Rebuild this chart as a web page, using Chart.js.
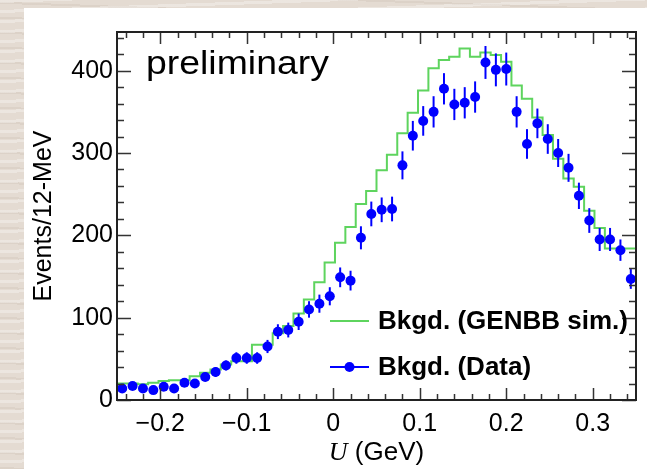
<!DOCTYPE html>
<html lang="en">
<head>
<meta charset="UTF-8">
<title>Bkgd. U distribution</title>
<script src="https://cdn.jsdelivr.net/npm/chart.js@4"></script>
<style>
    body {
        margin: 0;
        width: 647px;
        height: 469px;
        overflow: hidden;
        position: relative;
        background-color: #e4dbd2;
        background-image:
            repeating-linear-gradient(178deg, rgba(255,255,255,0.30) 0 3px, rgba(255,255,255,0) 3px 10px),
            repeating-linear-gradient(2deg, rgba(150,130,110,0.10) 0 2px, rgba(0,0,0,0) 2px 15px);
    }
    .panel {
        position: absolute;
        left: 24px;
        top: 8px;
        width: 623px;
        height: 461px;
        background: #fff;
    }
    #chart {
        position: absolute;
        left: 0;
        top: 0;
    }
</style>
</head>
<body>
<div class="panel"></div>
<canvas id="chart" width="647" height="469"></canvas>
<script>
    // binning of both histograms (12 MeV bins)
    const binLo = -0.25;
    const binHi = 0.35;
    const binWidth = 0.012;

    // Bkgd. (Data): counts per bin and their error bars
    const dataCounts = [14, 17, 14, 12, 16, 14, 21, 20, 28, 34,
                        42, 51, 51, 51, 65, 83, 85, 95, 110, 117,
                        126, 149, 145, 197, 226, 231, 232, 285, 321, 339,
                        350, 378, 359, 361, 368, 410, 401, 402, 350, 311,
                        336, 317, 300, 282, 248, 218, 195, 195, 182, 147];
    const dataErrors = [4, 4, 4, 3, 4, 4, 5, 4, 5, 6,
                        6, 7, 7, 7, 8, 9, 9, 10, 10, 11,
                        11, 12, 12, 14, 15, 15, 15, 17, 18, 18,
                        19, 19, 19, 19, 19, 20, 20, 20, 19, 18,
                        18, 18, 17, 17, 16, 15, 14, 14, 13, 12];

    // Bkgd. (GENBB sim.) histogram contents
    const simCounts = [20, 20, 20, 19, 21, 23, 24, 24, 29, 33,
                       37, 43, 47, 47, 67, 67, 81, 90, 105, 122,
                       143, 167, 191, 210, 238, 254, 279, 298, 324, 349,
                       376, 403, 413, 417, 427, 417, 422, 419, 411, 382,
                       366, 343, 322, 293, 269, 259, 230, 209, 184, 184];

    const xTickValues = [-0.2, -0.1, 0, 0.1, 0.2, 0.3];
    const yTickValues = [0, 100, 200, 300, 400];
    const yMax = 447;

    const BLUE = '#0000ff';
    const GREEN = '#5ed45e';
    const SANS = '"Liberation Sans", Arial, Helvetica, sans-serif';
    const SERIF = '"Liberation Serif", "Times New Roman", serif';

    const dataPoints = dataCounts.map((v, i) => ({ x: binLo + (i + 0.5) * binWidth, y: v }));
    const simPoints = simCounts.map((v, i) => ({ x: binLo + i * binWidth, y: v }));
    simPoints.push({ x: binHi, y: simCounts[simCounts.length - 1] });

    function fmtTick(v) {
        if (Math.abs(v) < 1e-9) return '0';
        return (v < 0 ? '\u2212' : '') + Math.abs(v).toFixed(1);
    }

    // error bars, drawn through the y scale
    const errorBars = {
        id: 'errorBars',
        afterDatasetsDraw(chart) {
            const { ctx, scales: { x, y }, chartArea } = chart;
            ctx.save();
            ctx.beginPath();
            ctx.rect(chartArea.left, chartArea.top, chartArea.right - chartArea.left, chartArea.bottom - chartArea.top);
            ctx.clip();
            ctx.strokeStyle = BLUE;
            ctx.lineWidth = 2;
            dataPoints.forEach((p, i) => {
                const px = x.getPixelForValue(p.x);
                ctx.beginPath();
                ctx.moveTo(px, y.getPixelForValue(p.y - dataErrors[i]));
                ctx.lineTo(px, y.getPixelForValue(p.y + dataErrors[i]));
                ctx.stroke();
            });
            ctx.restore();
        }
    };

    // ROOT-like frame: box, inward ticks on all sides, titles, legend, label
    const rootFrame = {
        id: 'rootFrame',
        afterDraw(chart) {
            const { ctx, scales: { x, y }, chartArea: a } = chart;
            ctx.save();

            // ticks
            ctx.strokeStyle = '#333';
            ctx.lineWidth = 1.5;
            ctx.beginPath();
            for (let k = -12; k <= 17; k++) {
                const v = k * 0.02;
                if (v < binLo || v > binHi) continue;
                const px = Math.round(x.getPixelForValue(v)) + 0.5;
                const len = (k % 5 === 0) ? 12 : 6;
                ctx.moveTo(px, a.bottom); ctx.lineTo(px, a.bottom - len);
                ctx.moveTo(px, a.top); ctx.lineTo(px, a.top + len);
            }
            for (let v = 0; v <= yMax; v += 20) {
                const py = Math.round(y.getPixelForValue(v)) + 0.5;
                const len = (v % 100 === 0) ? 14 : 7;
                ctx.moveTo(a.left, py); ctx.lineTo(a.left + len, py);
                ctx.moveTo(a.right, py); ctx.lineTo(a.right - len, py);
            }
            ctx.stroke();

            // frame
            ctx.strokeStyle = '#222';
            ctx.lineWidth = 2;
            ctx.strokeRect(a.left, a.top, a.right - a.left, a.bottom - a.top);

            ctx.fillStyle = '#000';

            // y title
            ctx.save();
            ctx.translate(51, (a.top + a.bottom) / 2);
            ctx.rotate(-Math.PI / 2);
            ctx.font = '25px ' + SANS;
            ctx.textAlign = 'center';
            ctx.textBaseline = 'alphabetic';
            ctx.fillText('Events/12-MeV', 0, 0);
            ctx.restore();

            // x title: italic U + (GeV)
            ctx.textBaseline = 'alphabetic';
            ctx.textAlign = 'left';
            const uFont = 'italic 26px ' + SERIF;
            const restFont = '26px ' + SANS;
            ctx.font = uFont;
            const wU = ctx.measureText('U').width;
            ctx.font = restFont;
            const wRest = ctx.measureText(' (GeV)').width;
            const x0 = (a.left + a.right) / 2 - (wU + wRest) / 2;
            ctx.font = uFont;
            ctx.fillText('U', x0, 460);
            ctx.font = restFont;
            ctx.fillText(' (GeV)', x0 + wU, 460);

            // preliminary
            ctx.save();
            ctx.translate(146, 74);
            ctx.scale(1.1, 1);
            ctx.font = '34px ' + SANS;
            ctx.fillText('preliminary', 0, 0);
            ctx.restore();

            // legend
            ctx.font = 'bold 26px ' + SANS;
            ctx.textBaseline = 'middle';
            ctx.lineWidth = 2;
            ctx.strokeStyle = GREEN;
            ctx.beginPath();
            ctx.moveTo(330, 321); ctx.lineTo(369, 321);
            ctx.stroke();
            ctx.fillText(chart.data.datasets[1].label, 378, 322);

            ctx.strokeStyle = BLUE;
            ctx.beginPath();
            ctx.moveTo(330, 367); ctx.lineTo(369, 367);
            ctx.stroke();
            ctx.fillStyle = BLUE;
            ctx.beginPath();
            ctx.arc(349.5, 367, 5, 0, Math.PI * 2);
            ctx.fill();
            ctx.fillStyle = '#000';
            ctx.fillText(chart.data.datasets[0].label, 378, 368);

            ctx.restore();
        }
    };

    new Chart(document.getElementById('chart').getContext('2d'), {
        type: 'scatter',
        data: {
            datasets: [{
                label: 'Bkgd. (Data)',
                data: dataPoints,
                showLine: false,
                pointRadius: 5,
                pointBackgroundColor: BLUE,
                pointBorderWidth: 0,
                order: 0
            }, {
                label: 'Bkgd. (GENBB sim.)',
                type: 'line',
                data: simPoints,
                stepped: 'after',
                borderColor: GREEN,
                borderWidth: 2,
                pointRadius: 0,
                fill: false,
                order: 1
            }]
        },
        options: {
            responsive: false,
            animation: false,
            events: [],
            layout: { padding: { left: 0, top: 32, right: 11, bottom: 0 } },
            plugins: { legend: { display: false }, tooltip: { enabled: false } },
            scales: {
                x: {
                    type: 'linear',
                    min: binLo,
                    max: binHi,
                    grid: { display: false, drawTicks: false },
                    border: { display: false },
                    afterFit: s => { s.height = 69; },
                    afterBuildTicks: s => { s.ticks = xTickValues.map(v => ({ value: v })); },
                    ticks: {
                        padding: 9,
                        color: '#000',
                        maxRotation: 0,
                        autoSkip: false,
                        font: { family: SANS, size: 25 },
                        callback: v => fmtTick(v)
                    }
                },
                y: {
                    min: 0,
                    max: yMax,
                    grid: { display: false, drawTicks: false },
                    border: { display: false },
                    afterFit: s => { s.width = 117; },
                    afterBuildTicks: s => { s.ticks = yTickValues.map(v => ({ value: v })); },
                    ticks: {
                        padding: 4,
                        color: '#000',
                        autoSkip: false,
                        font: { family: SANS, size: 25 },
                        callback: v => String(v)
                    }
                }
            }
        },
        plugins: [errorBars, rootFrame]
    });
</script>
</body>
</html>
